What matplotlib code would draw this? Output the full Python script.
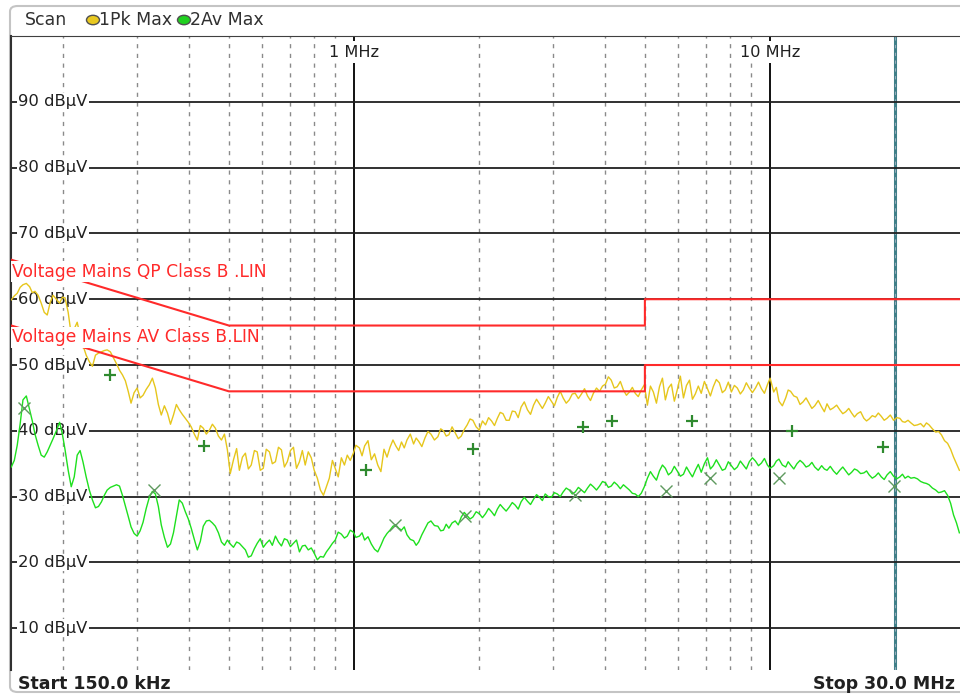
import matplotlib.pyplot as plt
from matplotlib.patches import FancyBboxPatch, Circle
from matplotlib.transforms import blended_transform_factory

# sweep points (MHz) and the two traces (dBuV)
freq_mhz = [0.150, 0.1525, 0.155, 0.1575, 0.160, 0.163, 0.166, 0.1685, 0.171, 0.174,
            0.177, 0.180, 0.183, 0.186, 0.189, 0.1925, 0.196, 0.199, 0.202, 0.2055,
            0.209, 0.2125, 0.216, 0.2195, 0.223, 0.227, 0.231, 0.235, 0.239, 0.243,
            0.247, 0.251, 0.255, 0.2595, 0.264, 0.2685, 0.273, 0.2775, 0.282, 0.2865,
            0.291, 0.296, 0.301, 0.306, 0.311, 0.3165, 0.322, 0.3275, 0.333, 0.3385,
            0.344, 0.350, 0.356, 0.362, 0.368, 0.374, 0.380, 0.3865, 0.393, 0.3995,
            0.406, 0.413, 0.420, 0.427, 0.434, 0.4415, 0.449, 0.4565, 0.464, 0.472,
            0.480, 0.488, 0.496, 0.504, 0.513, 0.522, 0.530, 0.539, 0.548, 0.557,
            0.566, 0.576, 0.585, 0.595, 0.605, 0.615, 0.626, 0.636, 0.647, 0.658,
            0.669, 0.680, 0.691, 0.703, 0.715, 0.727, 0.739, 0.751, 0.763, 0.776,
            0.789, 0.802, 0.816, 0.830, 0.844, 0.858, 0.872, 0.887, 0.901, 0.916,
            0.932, 0.948, 0.963, 0.979, 0.996, 1.01, 1.03, 1.045, 1.06, 1.08,
            1.10, 1.12, 1.14, 1.16, 1.18, 1.20, 1.22, 1.24, 1.26, 1.28,
            1.30, 1.32, 1.34, 1.365, 1.39, 1.41, 1.43, 1.455, 1.48, 1.505,
            1.53, 1.56, 1.59, 1.615, 1.64, 1.665, 1.69, 1.72, 1.75, 1.78,
            1.81, 1.84, 1.87, 1.90, 1.93, 1.965, 2.00, 2.035, 2.07, 2.105,
            2.14, 2.175, 2.21, 2.245, 2.28, 2.32, 2.36, 2.40, 2.44, 2.48,
            2.52, 2.565, 2.61, 2.655, 2.70, 2.745, 2.79, 2.835, 2.88, 2.93,
            2.98, 3.03, 3.08, 3.13, 3.18, 3.235, 3.29, 3.345, 3.40, 3.46,
            3.52, 3.58, 3.64, 3.70, 3.76, 3.825, 3.89, 3.955, 4.02, 4.085,
            4.15, 4.22, 4.29, 4.365, 4.44, 4.515, 4.59, 4.665, 4.74, 4.82,
            4.90, 4.985, 5.07, 5.155, 5.24, 5.33, 5.42, 5.51, 5.60, 5.695,
            5.79, 5.885, 5.98, 6.085, 6.19, 6.295, 6.40, 6.505, 6.61, 6.72,
            6.83, 6.95, 7.07, 7.185, 7.30, 7.425, 7.55, 7.675, 7.80, 7.935,
            8.07, 8.205, 8.34, 8.48, 8.62, 8.765, 8.91, 9.065, 9.22, 9.375,
            9.53, 9.69, 9.85, 10.0, 10.2, 10.35, 10.5, 10.7, 10.9, 11.05,
            11.2, 11.4, 11.6, 11.8, 12.0, 12.2, 12.4, 12.6, 12.8, 13.05,
            13.3, 13.5, 13.7, 13.95, 14.2, 14.45, 14.7, 14.95, 15.2, 15.45,
            15.7, 15.95, 16.2, 16.5, 16.8, 17.05, 17.3, 17.6, 17.9, 18.2,
            18.5, 18.8, 19.1, 19.45, 19.8, 20.15, 20.5, 20.8, 21.1, 21.45,
            21.8, 22.2, 22.6, 23.0, 23.4, 23.75, 24.1, 24.55, 25.0, 25.4,
            25.8, 26.25, 26.7, 27.15, 27.6, 28.05, 28.5]

pk_max = [59.9, 60.5, 60.9, 61.8, 62.2, 62.4, 61.9, 61.0, 61.2, 60.6,
          59.4, 58.0, 57.6, 59.5, 60.6, 60.0, 59.4, 60.3, 60.2, 58.0,
          54.6, 55.5, 56.5, 54.5, 53.0, 51.5, 50.5, 49.8, 51.5, 51.8,
          52.0, 52.2, 52.3, 52.0, 51.1, 50.2, 49.2, 48.5, 47.6, 46.0,
          44.2, 45.8, 46.5, 45.0, 45.4, 46.3, 47.0, 48.0, 46.5, 44.0,
          42.4, 43.8, 42.7, 41.0, 42.4, 44.0, 43.2, 42.5, 41.9, 41.3,
          40.6, 39.5, 38.6, 40.8, 40.4, 39.5, 40.1, 41.0, 40.4, 39.2,
          38.6, 39.5, 37.1, 33.5, 35.6, 37.3, 34.0, 36.0, 36.6, 34.2,
          34.8, 37.0, 36.8, 34.0, 34.3, 37.2, 36.8, 35.0, 35.3, 37.5,
          37.1, 34.5, 35.3, 37.0, 37.5, 34.3, 35.3, 37.0, 34.8, 36.8,
          35.9, 34.0, 32.8, 31.0, 30.2, 31.5, 32.8, 35.5, 34.3, 33.0,
          35.9, 34.8, 36.3, 35.5, 36.6, 37.8, 37.4, 36.2, 37.7, 38.5,
          35.6, 36.5, 34.8, 33.8, 37.2, 36.0, 37.5, 38.6, 37.7, 37.0,
          38.3, 37.4, 38.6, 39.5, 38.0, 38.9, 38.4, 37.6, 38.9, 39.9,
          39.5, 38.6, 39.1, 40.3, 40.0, 39.2, 39.4, 40.6, 39.7, 38.8,
          39.2, 40.2, 40.9, 41.8, 41.6, 40.6, 40.1, 41.5, 40.9, 42.0,
          41.5, 40.8, 41.9, 42.8, 42.6, 41.6, 41.6, 43.0, 42.9, 42.0,
          43.6, 44.4, 43.2, 42.5, 43.9, 44.8, 44.1, 43.4, 44.2, 45.2,
          44.5, 43.8, 45.1, 46.0, 45.0, 44.2, 44.7, 45.6, 45.7, 44.9,
          45.6, 46.4, 45.3, 44.6, 45.7, 46.5, 46.0, 46.8, 47.1, 48.2,
          47.7, 46.5, 46.7, 47.5, 46.2, 45.4, 45.9, 46.6, 45.7, 45.2,
          46.2, 47.0, 43.9, 46.8, 45.9, 44.2, 46.7, 48.0, 44.7, 46.5,
          47.1, 44.5, 46.2, 48.3, 45.0, 46.9, 47.7, 44.8, 45.6, 46.8,
          45.7, 47.5, 46.4, 45.3, 46.7, 47.8, 47.3, 45.8, 46.2, 47.4,
          45.9, 46.9, 46.5, 45.6, 46.2, 47.3, 46.5, 45.8, 46.5, 47.4,
          46.4, 45.7, 47.0, 48.0, 45.9, 46.6, 44.5, 43.8, 45.0, 46.2,
          46.0, 45.3, 45.1, 44.0, 44.4, 45.0, 44.2, 43.4, 43.8, 44.6,
          43.6, 42.9, 44.1, 43.2, 43.5, 43.9, 43.2, 42.6, 42.9, 43.4,
          42.7, 42.1, 42.6, 42.9, 41.9, 41.5, 41.8, 42.3, 42.1, 42.7,
          42.2, 41.6, 41.9, 42.4, 41.6, 42.0, 41.9, 41.4, 41.3, 41.6,
          41.2, 40.8, 40.9, 41.1, 40.6, 41.2, 40.9, 40.3, 39.8, 39.9,
          39.4, 38.5, 38.1, 37.2, 36.0, 35.0, 34.0]

av_max = [34.5, 35.5, 37.8, 41.0, 44.7, 45.3, 43.2, 41.5, 39.5, 37.8,
          36.3, 36.0, 36.8, 37.8, 38.8, 40.0, 41.3, 39.5, 37.1, 34.0,
          31.5, 33.0, 36.3, 37.0, 35.3, 33.0, 31.0, 29.5, 28.3, 28.5,
          29.2, 30.2, 31.0, 31.4, 31.6, 31.8, 31.6, 30.2, 28.6, 27.0,
          25.4, 24.4, 24.0, 24.8, 26.1, 28.2, 29.9, 30.8, 30.4, 28.5,
          25.7, 23.8, 22.3, 22.8, 24.5, 27.0, 29.5, 29.0, 27.7, 26.6,
          25.2, 23.5, 21.9, 23.2, 25.5, 26.3, 26.4, 26.0, 25.5, 24.5,
          23.1, 22.6, 23.4, 22.8, 22.3, 23.1, 22.9, 22.4, 21.9, 20.8,
          21.0, 22.1, 22.9, 23.6, 22.3, 22.9, 23.4, 22.6, 24.0, 23.1,
          22.5, 23.6, 23.4, 22.4, 22.9, 23.4, 21.6, 22.5, 22.6, 21.9,
          22.2, 21.4, 20.4, 20.9, 20.8, 21.6, 22.2, 22.9, 23.4, 24.6,
          24.3, 23.7, 24.0, 24.9, 24.6, 23.8, 24.0, 24.5, 23.4, 23.9,
          22.8, 22.0, 21.6, 22.6, 23.7, 24.4, 24.9, 25.5, 25.7, 25.2,
          24.9, 25.4, 24.2, 23.5, 23.3, 22.6, 23.1, 24.2, 25.1, 26.0,
          26.3, 25.6, 25.5, 24.8, 24.9, 25.8, 25.2, 26.0, 26.3, 25.7,
          26.9, 27.6, 27.1, 26.6, 26.9, 27.7, 27.4, 26.8, 27.4, 28.2,
          27.7, 27.1, 28.1, 28.8, 28.3, 27.8, 28.4, 29.1, 28.7, 28.1,
          29.2, 29.9, 29.3, 28.8, 29.6, 30.3, 29.9, 29.4, 30.4, 30.0,
          29.9, 30.6, 30.4, 30.0, 30.7, 31.3, 31.0, 30.4, 30.7, 31.4,
          31.0, 30.6, 31.3, 31.9, 31.5, 31.0, 31.6, 32.3, 32.1, 31.4,
          31.6, 32.2, 31.8, 31.2, 31.8, 31.4, 31.0, 30.5, 30.4, 30.0,
          30.5, 31.5, 32.8, 33.8, 33.1, 32.5, 33.9, 34.8, 34.3, 33.3,
          33.7, 34.6, 33.9, 33.1, 33.4, 34.5, 33.7, 33.0, 34.0, 34.9,
          33.7, 35.0, 35.9, 34.2, 34.7, 35.6, 34.8, 34.0, 34.2, 35.3,
          34.7, 34.1, 34.5, 35.4, 34.8, 34.2, 35.3, 35.9, 35.4, 34.7,
          35.1, 35.8, 34.8, 34.3, 34.7, 35.4, 35.7, 34.8, 34.5, 35.3,
          34.8, 34.2, 35.0, 35.5, 35.1, 34.5, 34.7, 35.2, 34.5, 34.0,
          34.7, 34.2, 34.0, 34.6, 33.9, 33.4, 34.0, 34.5, 33.9, 33.3,
          33.7, 34.2, 34.0, 33.5, 33.6, 33.9, 33.3, 32.8, 33.1, 33.6,
          33.0, 32.6, 33.3, 33.8, 33.1, 32.7, 33.0, 33.4, 32.8, 33.1,
          32.8, 32.9, 32.7, 32.3, 32.1, 32.0, 31.8, 31.3, 31.0, 30.6,
          30.7, 30.9, 30.2, 29.0, 27.2, 26.0, 24.5]

# final measurement results
qp_mark_f = [0.259, 0.436, 1.07, 1.93, 3.55, 4.17, 6.49, 11.3, 18.7]
qp_mark_db = [48.5, 37.7, 34.0, 37.2, 40.6, 41.5, 41.5, 40.0, 37.5]
av_mark_f = [0.161, 0.331, 1.255, 1.85, 3.40, 5.62, 7.17, 10.5, 19.8]
av_mark_db = [43.5, 31.0, 25.7, 27.1, 30.2, 30.9, 32.8, 32.8, 31.6]

# class B mains limits
qp_lim_f = [0.15, 0.5, 5.0, 5.0, 30.0]
qp_lim_db = [66, 56, 56, 60, 60]
av_lim_f = [0.15, 0.5, 5.0, 5.0, 30.0]
av_lim_db = [56, 46, 46, 50, 50]

level_ticks = [10, 20, 30, 40, 50, 60, 70, 80, 90]
minor_f = [0.2, 0.3, 0.4, 0.5, 0.6, 0.7, 0.8, 0.9,
           2, 3, 4, 5, 6, 7, 8, 9, 20]
major_f = [1, 10]
major_lbl = ["1 MHz", "10 MHz"]
marker_f = 20

W, H = 960, 695
fig = plt.figure(figsize=(W / 100, H / 100), dpi=100)
plt.rcParams['font.family'] = 'DejaVu Sans'

# outer screenshot frame + header
fig.add_artist(FancyBboxPatch((10 / W, 3 / H), 960 / W, 686 / H,
                              boxstyle="round,pad=0,rounding_size=0.008",
                              transform=fig.transFigure, fc="white",
                              ec="#c4c4c4", lw=1.5, zorder=0))
fig.text(25 / W, 1 - 20 / H, "Scan", fontsize=12.5, color="#303030", va="center")
fig.add_artist(Circle((93 / W, 1 - 20 / H), 6.5 / W, transform=fig.transFigure,
                      fc="#e8c820", ec="#505050", lw=1))
fig.text(99 / W, 1 - 20 / H, "1Pk Max", fontsize=12.5, color="#303030", va="center")
fig.add_artist(Circle((184 / W, 1 - 20 / H), 6.5 / W, transform=fig.transFigure,
                      fc="#20d020", ec="#505050", lw=1))
fig.text(190 / W, 1 - 20 / H, "2Av Max", fontsize=12.5, color="#303030", va="center")

ax = fig.add_axes([11.3 / W, 1 - 670 / H, (W - 11.3) / W, (670 - 36) / H])
ax.set_xscale("log")
ax.set_xlim(0.15, 28.6)
ax.set_ylim(3.65, 100)
ax.set_xticks([])
ax.set_yticks([])
ax.minorticks_off()
for s in ["right", "bottom"]:
    ax.spines[s].set_visible(False)
ax.spines["top"].set_color("#404040")
ax.spines["left"].set_color("#303030")
ax.spines["left"].set_linewidth(1.5)

# grid
for f in minor_f:
    ax.axvline(f, color="#8a8a8a", lw=1, ls=(0, (3, 4)), zorder=1)
ax.axvline(marker_f, color="#3f7f88", lw=2.2, zorder=1.5)
ax.axvline(marker_f, color="#9ab", lw=0.8, ls=(0, (3, 4)), zorder=1.6)
for f in major_f:
    ax.axvline(f, color="#101010", lw=1.4, zorder=1.7)
for v in level_ticks:
    ax.axhline(v, color="#202020", lw=1.3, zorder=1.7)

tr = blended_transform_factory(ax.transAxes, ax.transData)
for v in level_ticks:
    ax.text(0.007, v, f"{v} dBµV", transform=tr, fontsize=11.8, color="#202020",
            va="center", ha="left", zorder=2,
            bbox=dict(fc="white", ec="none", pad=1.0))
for f, lbl in zip(major_f, major_lbl):
    ax.text(f, 97.5, lbl, fontsize=11.6, color="#202020", ha="center", va="center",
            zorder=2, bbox=dict(fc="white", ec="none", pad=2.5))

# traces
ax.plot(freq_mhz, pk_max, color="#e6c61c", lw=1.0, zorder=3)
ax.plot(freq_mhz, av_max, color="#1ee01e", lw=1.0, zorder=3)
ax.plot(qp_mark_f, qp_mark_db, ls="none", marker="+", ms=9, mew=1.6,
        color="#2f8a2f", zorder=4)
ax.plot(av_mark_f, av_mark_db, ls="none", marker="x", ms=9, mew=1.0,
        color="#5f9a5f", zorder=4)

# limit lines
ax.plot(qp_lim_f, qp_lim_db, color="#ff2a2a", lw=1.5, zorder=3.5)
ax.plot(av_lim_f, av_lim_db, color="#ff2a2a", lw=1.5, zorder=3.5)
ax.text(0.001, 64.2, "Voltage Mains QP Class B .LIN", transform=tr, fontsize=12.3,
        color="#ff2a2a", va="center", ha="left", zorder=5,
        bbox=dict(fc="white", ec="none", pad=0.8))
ax.text(0.001, 54.2, "Voltage Mains AV Class B.LIN", transform=tr, fontsize=12.3,
        color="#ff2a2a", va="center", ha="left", zorder=5,
        bbox=dict(fc="white", ec="none", pad=0.8))

fig.text(18 / W, 1 - 684 / H, "Start 150.0 kHz", fontsize=12.5, fontweight="bold",
         color="#202020", va="center", ha="left")
fig.text(955 / W, 1 - 684 / H, "Stop 30.0 MHz", fontsize=12.5, fontweight="bold",
         color="#202020", va="center", ha="right")

fig.savefig("out.png", dpi=100)
